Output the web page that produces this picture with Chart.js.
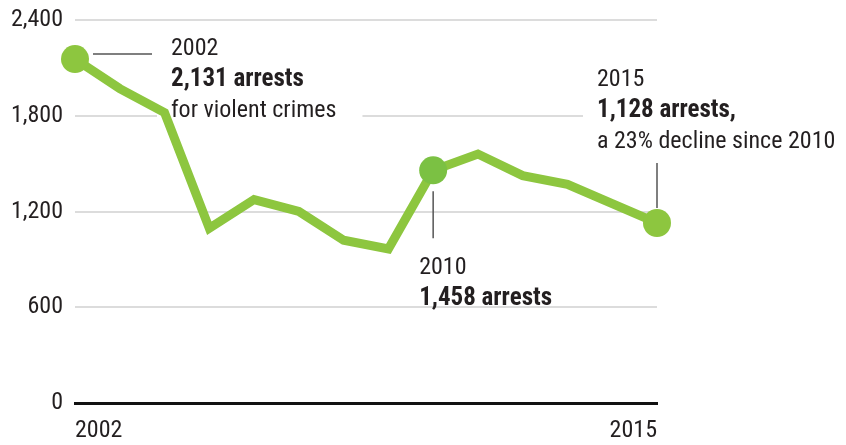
<!DOCTYPE html>
<html>
<head>
<meta charset="utf-8">
<script src="https://cdn.jsdelivr.net/npm/chart.js@4"></script>
<style>
  html, body { margin: 0; padding: 0; background: #fff; }
  #wrap { width: 846px; height: 445px; }
</style>
</head>
<body>
<div id="wrap"><canvas id="arrestsChart" width="846" height="445"></canvas></div>
<script>
// arrests for violent crimes, 2002-2015 (values as drawn in the picture)
const years = ['2002', '2003', '2004', '2005', '2006', '2007', '2008', '2009', '2010', '2011', '2012', '2013', '2014', '2015'];
const arrests = [2155, 1970, 1820, 1095, 1275, 1200, 1020, 965, 1458, 1560, 1425, 1370, 1250, 1128];
const yTicks = [0, 600, 1200, 1800, 2400];
const highlighted = ['2002', '2010', '2015'];

const FONT = '"Liberation Sans Narrow", "Roboto Condensed", "DejaVu Sans Condensed", sans-serif';
const GREEN = '#8dc63f';
const TEXT = '#231f20';

// callout notes: which year, lines of text, where it sits relative to the point
const notes = [
    { year: '2002', dx: 96, dy: -4, lines: [['2002', false], ['2,131 arrests', true], ['for violent crimes', false]], lead: 'h', bg: [2] },
    { year: '2010', dx: -14, dy: 104, lines: [['2010', false], ['1,458 arrests', true]], lead: 'v' },
    { year: '2015', dx: -60, dy: -137, lines: [['2015', false], ['1,128 arrests,', true], ['a 23% decline since 2010', false]], lead: 'v', bg: [1] }
];

function noteFont(bold) {
    return bold ? 'bold 25px ' + FONT : '24px ' + FONT;
}

const calloutPlugin = {
    id: 'callouts',
    beforeDatasetsDraw(chart) {
        // white patches break the gridlines behind some text lines
        const ctx = chart.ctx;
        ctx.save();
        notes.forEach(n => {
            if (!n.bg) return;
            const i = years.indexOf(n.year);
            const px = chart.scales.x.getPixelForValue(i);
            const py = chart.scales.y.getPixelForValue(arrests[i]);
            n.bg.forEach(li => {
                const [txt, bold] = n.lines[li];
                ctx.font = noteFont(bold);
                const w = ctx.measureText(txt).width;
                const base = py + n.dy + li * 31;
                ctx.fillStyle = '#fff';
                ctx.fillRect(px + n.dx - 14, base - 22, w + 40, 30);
            });
        });
        ctx.restore();
    },
    afterDatasetsDraw(chart) {
        const ctx = chart.ctx;
        ctx.save();
        notes.forEach(n => {
            const i = years.indexOf(n.year);
            const px = chart.scales.x.getPixelForValue(i);
            const py = chart.scales.y.getPixelForValue(arrests[i]);
            ctx.strokeStyle = '#555';
            ctx.lineWidth = 1.5;
            ctx.beginPath();
            if (n.lead === 'h') {
                ctx.moveTo(px + 18, py - 5);
                ctx.lineTo(px + 77, py - 5);
            } else if (n.dy > 0) {
                ctx.moveTo(px, py + 21);
                ctx.lineTo(px, py + 68);
            } else {
                ctx.moveTo(px, py - 60);
                ctx.lineTo(px, py - 15);
            }
            ctx.stroke();
            ctx.fillStyle = TEXT;
            ctx.textBaseline = 'alphabetic';
            ctx.textAlign = 'left';
            n.lines.forEach(([txt, bold], li) => {
                ctx.font = noteFont(bold);
                ctx.fillText(txt, px + n.dx, py + n.dy + li * 31);
            });
        });
        ctx.restore();
    }
};

new Chart(document.getElementById('arrestsChart'), {
    type: 'line',
    data: {
        labels: years,
        datasets: [{
            data: arrests,
            borderColor: GREEN,
            borderWidth: 9,
            tension: 0,
            clip: false,
            pointRadius: years.map(y => highlighted.includes(y) ? 14 : 0),
            pointBackgroundColor: years.map(y => y === '2010' ? '#7bc143' : GREEN),
            pointBorderWidth: 0,
            pointHoverRadius: 0
        }]
    },
    options: {
        responsive: false,
        animation: false,
        events: [],
        layout: { padding: { top: 20, right: 189, bottom: 0, left: 0 } },
        plugins: { legend: { display: false }, tooltip: { enabled: false } },
        scales: {
            x: {
                grid: { display: false, drawTicks: false },
                border: { display: true, color: '#111', width: 3 },
                afterFit: s => { s.height = 42; s.paddingLeft = 0; s.paddingRight = 0; },
                ticks: {
                    autoSkip: false,
                    maxRotation: 0,
                    align: 'inner',
                    padding: 14,
                    color: TEXT,
                    font: { family: FONT, size: 24 },
                    callback: (v, i) => (i === 0 || i === years.length - 1) ? years[i] : ''
                }
            },
            y: {
                min: yTicks[0],
                max: yTicks[yTicks.length - 1],
                afterBuildTicks: s => { s.ticks = yTicks.map(v => ({ value: v })); },
                afterFit: s => { s.width = 75; s.paddingTop = 0; s.paddingBottom = 0; },
                grid: {
                    drawTicks: false,
                    lineWidth: 2,
                    color: c => c.tick && c.tick.value === 0 ? 'rgba(0,0,0,0)' : '#dcdcdc'
                },
                border: { display: false },
                ticks: {
                    padding: 12,
                    color: TEXT,
                    font: { family: FONT, size: 24 },
                    callback: v => v.toLocaleString('en-US')
                }
            }
        }
    },
    plugins: [calloutPlugin]
});
</script>
</body>
</html>
